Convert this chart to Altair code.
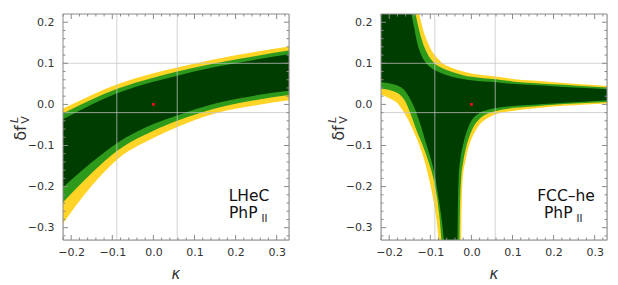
import altair as alt
import pandas as pd

# ---------------- data ----------------
X_DOMAIN = [-0.22, 0.33]
Y_DOMAIN = [-0.33, 0.22]
X_TICKS = [-0.2, -0.1, 0.0, 0.1, 0.2, 0.3]
Y_TICKS = [-0.3, -0.2, -0.1, 0.0, 0.1, 0.2]
X_MINOR = [-0.22, -0.18, -0.16, -0.14, -0.12, -0.08, -0.06, -0.04, -0.02,
           0.02, 0.04, 0.06, 0.08, 0.12, 0.14, 0.16, 0.18, 0.22, 0.24, 0.26, 0.28, 0.32]
Y_MINOR = [-0.32, -0.28, -0.26, -0.24, -0.22, -0.18, -0.16, -0.14, -0.12,
           -0.08, -0.06, -0.04, -0.02, 0.02, 0.04, 0.06, 0.08, 0.12, 0.14, 0.16, 0.18]
GRID_X = [-0.089, 0.058]
GRID_Y = [0.100, -0.020]
BEST_K = [0.0]
BEST_F = [0.0]

# Left panel (LHeC): band edges on a common kappa grid
L_X = [-0.22, -0.15, -0.088, 0.0, 0.058, 0.15, 0.25, 0.33]
L_YEL_LO = [-0.290, -0.198, -0.134, -0.082, -0.055, -0.022, -0.002, 0.010]
L_GRN_LO = [-0.238, -0.167, -0.113, -0.064, -0.040, -0.010, 0.011, 0.023]
L_DRK_LO = [-0.202, -0.141, -0.094, -0.048, -0.027, 0.002, 0.022, 0.033]
L_DRK_HI = [-0.036, 0.000, 0.027, 0.055, 0.070, 0.091, 0.109, 0.122]
L_GRN_HI = [-0.022, 0.012, 0.038, 0.065, 0.080, 0.100, 0.118, 0.131]
L_YEL_HI = [-0.010, 0.023, 0.049, 0.076, 0.090, 0.110, 0.128, 0.141]

# Right panel (FCC-he): lower boundaries (left branch, bottom gap, right branch)
R_YEL_LO_X = [-0.22, -0.20, -0.18, -0.165, -0.15, -0.138, -0.128, -0.115, -0.104, -0.093, -0.085, -0.078,
              -0.025, -0.024, -0.021, -0.015, -0.007, 0.003, 0.015, 0.03, 0.045, 0.06, 0.10, 0.15, 0.20, 0.25, 0.33]
R_YEL_LO_Y = [0.024, 0.015, 0.003, -0.018, -0.045, -0.072, -0.096, -0.135, -0.178, -0.23, -0.28, -0.33,
              -0.33, -0.26, -0.18, -0.14, -0.105, -0.078, -0.056, -0.040, -0.030, -0.024, -0.016, -0.010, -0.005, -0.002, 0.002]
R_GRN_LO_X = [-0.22, -0.19, -0.17, -0.16, -0.15, -0.14, -0.13, -0.119, -0.106, -0.093, -0.083, -0.077, -0.072,
              -0.029, -0.028, -0.025, -0.020, -0.013, -0.005, 0.005, 0.02, 0.04, 0.06, 0.10, 0.15, 0.20, 0.25, 0.33]
R_GRN_LO_Y = [0.038, 0.032, 0.020, 0.006, -0.018, -0.045, -0.072, -0.098, -0.135, -0.178, -0.23, -0.28, -0.33,
              -0.33, -0.26, -0.18, -0.14, -0.105, -0.078, -0.055, -0.035, -0.022, -0.016, -0.009, -0.005, -0.001, 0.002, 0.006]
R_DRK_LO_X = [-0.22, -0.19, -0.165, -0.15, -0.14, -0.132, -0.122, -0.11, -0.098, -0.088, -0.078, -0.071, -0.066,
              -0.034, -0.033, -0.031, -0.027, -0.020, -0.012, 0.0, 0.018, 0.04, 0.06, 0.10, 0.15, 0.20, 0.25, 0.33]
R_DRK_LO_Y = [0.054, 0.049, 0.037, 0.015, -0.005, -0.025, -0.055, -0.096, -0.135, -0.178, -0.24, -0.29, -0.33,
              -0.33, -0.26, -0.18, -0.135, -0.097, -0.068, -0.040, -0.022, -0.013, -0.009, -0.004, -0.001, 0.002, 0.005, 0.010]
# Right panel: upper boundaries (upper-right branch, starting where it leaves the top frame)
R_DRK_HI_X = [-0.146, -0.138, -0.132, -0.122, -0.11, -0.095, -0.08, -0.05, -0.02, 0.0, 0.06, 0.10, 0.15, 0.20, 0.25, 0.33]
R_DRK_HI_Y = [0.22, 0.18, 0.15, 0.12, 0.10, 0.087, 0.079, 0.068, 0.062, 0.059, 0.054, 0.050, 0.047, 0.044, 0.041, 0.037]
R_GRN_HI_X = [-0.136, -0.127, -0.12, -0.108, -0.09, -0.07, -0.05, -0.02, 0.0, 0.06, 0.10, 0.15, 0.20, 0.25, 0.33]
R_GRN_HI_Y = [0.22, 0.18, 0.155, 0.125, 0.10, 0.088, 0.080, 0.071, 0.067, 0.061, 0.056, 0.052, 0.049, 0.046, 0.041]
R_YEL_HI_X = [-0.127, -0.117, -0.108, -0.095, -0.08, -0.07, -0.05, -0.02, 0.0, 0.06, 0.10, 0.15, 0.20, 0.25, 0.33]
R_YEL_HI_Y = [0.22, 0.18, 0.155, 0.128, 0.11, 0.10, 0.09, 0.08, 0.075, 0.068, 0.062, 0.058, 0.054, 0.050, 0.045]

YELLOW = "#FFD426"
GREEN = "#2E9A1C"
DARK = "#003D00"
WHITE = "#FFFFFF"
FONT = "DejaVu Sans"
W = 226
H = 226

xs = alt.Scale(domain=X_DOMAIN, nice=False, zero=False)
ys = alt.Scale(domain=Y_DOMAIN, nice=False, zero=False)
XAX = alt.Axis(values=X_TICKS, format=".1f", ticks=False, domain=False, grid=False,
               labelFont=FONT, labelFontSize=11, labelColor="#333333", labelPadding=6, title=None)
YAX = alt.Axis(values=Y_TICKS, format=".1f", ticks=False, domain=False, grid=False,
               labelFont=FONT, labelFontSize=11, labelColor="#333333", labelPadding=9, title=None)


def X(field="k"):
    return alt.X(field + ":Q", scale=xs, axis=XAX)


def Y(field="f"):
    return alt.Y(field + ":Q", scale=ys, axis=YAX, stack=False)


def area_above(xv, yv, color):
    df = pd.DataFrame({"k": xv, "f": yv})
    return alt.Chart(df).mark_area(color=color, interpolate="monotone", clip=True, opacity=1).encode(
        x=X(), y=Y(), y2=alt.value(0),
    )


def decorations(label1, lx1, lx2_php, lx2_ii):
    one = pd.DataFrame({"a": [0]})
    gx = alt.Chart(pd.DataFrame({"k": GRID_X})).mark_rule(color="#c4c4c4", strokeWidth=1, opacity=0.75).encode(
        x=X())
    gy = alt.Chart(pd.DataFrame({"f": GRID_Y})).mark_rule(color="#c4c4c4", strokeWidth=1, opacity=0.75).encode(
        y=Y())
    dot = alt.Chart(pd.DataFrame({"k": BEST_K, "f": BEST_F})).mark_square(size=8, color="#e8101a", opacity=1).encode(
        x=X(), y=Y())
    layers = [gx, gy, dot]
    tick_col = "#8a8a8a"
    for vals, ln in ((X_TICKS, 5), (X_MINOR, 2.5)):
        d = pd.DataFrame({"k": vals})
        layers.append(alt.Chart(d).mark_rule(color=tick_col, strokeWidth=1).encode(
            x=X(), y=alt.value(H), y2=alt.value(H - ln)))
        layers.append(alt.Chart(d).mark_rule(color=tick_col, strokeWidth=1).encode(
            x=X(), y=alt.value(0), y2=alt.value(ln)))
    for vals, ln in ((Y_TICKS, 5), (Y_MINOR, 2.5)):
        d = pd.DataFrame({"f": vals})
        layers.append(alt.Chart(d).mark_rule(color=tick_col, strokeWidth=1).encode(
            y=Y(), x=alt.value(0), x2=alt.value(ln)))
        layers.append(alt.Chart(d).mark_rule(color=tick_col, strokeWidth=1).encode(
            y=Y(), x=alt.value(W), x2=alt.value(W - ln)))
    layers.append(alt.Chart(one).mark_rect(filled=False, stroke="#8a8a8a", strokeWidth=1).encode(
        x=alt.value(0), x2=alt.value(W), y=alt.value(0), y2=alt.value(H)))
    # in-plot labels
    layers.append(alt.Chart(one).mark_text(text=label1, font=FONT, fontSize=15.5, color="#111111",
                                           align="center", baseline="alphabetic").encode(
        x=alt.value(lx1), y=alt.value(187)))
    layers.append(alt.Chart(one).mark_text(text="PhP", font=FONT, fontSize=15.5, color="#111111",
                                           align="left", baseline="alphabetic").encode(
        x=alt.value(lx2_php), y=alt.value(203.5)))
    layers.append(alt.Chart(one).mark_text(text="II", font=FONT, fontSize=10, color="#111111",
                                           align="left", baseline="alphabetic").encode(
        x=alt.value(lx2_ii), y=alt.value(207.5)))
    # axis titles
    layers.append(alt.Chart(one).mark_text(text="κ", font=FONT, fontSize=15, fontStyle="italic",
                                           color="#333333", align="center", baseline="alphabetic").encode(
        x=alt.value(W / 2), y=alt.value(H + 39)))
    layers.append(alt.Chart(one).mark_text(text="δf", font=FONT, fontSize=16, color="#333333",
                                           angle=270, align="center", baseline="middle").encode(
        x=alt.value(-42), y=alt.value(H / 2 + 6)))
    layers.append(alt.Chart(one).mark_text(text="L", font=FONT, fontSize=11, fontStyle="italic",
                                           color="#333333", angle=270, align="center", baseline="middle").encode(
        x=alt.value(-48), y=alt.value(H / 2 - 7)))
    layers.append(alt.Chart(one).mark_text(text="V", font=FONT, fontSize=11,
                                           color="#333333", angle=270, align="center", baseline="middle").encode(
        x=alt.value(-37), y=alt.value(H / 2 - 7)))
    return layers


def panel(curves, label1, lx1, lx2_php, lx2_ii):
    (ylo, glo, dlo, dhi, ghi, yhi) = curves
    bands = [
        area_above(*ylo, YELLOW),
        area_above(*glo, GREEN),
        area_above(*dlo, DARK),
        area_above(*dhi, GREEN),
        area_above(*ghi, YELLOW),
        area_above(*yhi, WHITE),
    ]
    return alt.layer(*bands, *decorations(label1, lx1, lx2_php, lx2_ii)).properties(width=W, height=H)


left = panel(
    ((L_X, L_YEL_LO), (L_X, L_GRN_LO), (L_X, L_DRK_LO), (L_X, L_DRK_HI), (L_X, L_GRN_HI), (L_X, L_YEL_HI)),
    "LHeC", 186, 166, 198.5,
)
right = panel(
    ((R_YEL_LO_X, R_YEL_LO_Y), (R_GRN_LO_X, R_GRN_LO_Y), (R_DRK_LO_X, R_DRK_LO_Y),
     (R_DRK_HI_X, R_DRK_HI_Y), (R_GRN_HI_X, R_GRN_HI_Y), (R_YEL_HI_X, R_YEL_HI_Y)),
    "FCC–he", 185, 163, 195.5,
)

chart = alt.hconcat(left, right, spacing=92, bounds="flush").properties(
    padding={"left": 0, "top": 5, "right": 0, "bottom": 0}
).configure_view(stroke="transparent").configure(background="white")

chart.save("out.html", embed_options={"renderer": "svg", "actions": False})
